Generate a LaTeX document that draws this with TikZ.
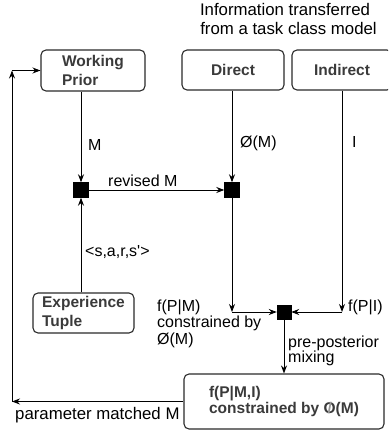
\documentclass[tikz,border=0pt]{standalone}
\usepackage{fontspec}
\setmainfont{Liberation Sans}
% plain family: keeps the straight apostrophe in <s,a,r,s'>
\newfontfamily\labfont{Liberation Sans}
\usetikzlibrary{arrows.meta}
\definecolor{boxgray}{HTML}{2A2A2A}
\definecolor{boxtext}{HTML}{3A3A3A}
% bold O with a light grey stroke across it
\newcommand\greyslashO{\rlap{O}\hbox to \fontcharwd\font`O{\hss\textcolor{black!40}{/}\hss}}
\begin{document}
\begin{tikzpicture}[x=1pt,y=-1pt,
  box/.style={draw=boxgray, line width=1.1pt, rounded corners=5pt, inner sep=0pt,
    font=\labfont\fontsize{15.5}{19}\selectfont\bfseries, text=boxtext, align=left},
  junction/.style={fill=black, draw=black, minimum size=15pt, inner sep=0pt},
  lbl/.style={font=\labfont\fontsize{16}{17}\selectfont, inner sep=0pt, anchor=base west},
  biglbl/.style={lbl, font=\labfont\fontsize{16.8}{18}\selectfont},
  arr/.style={-{Stealth[length=8pt,width=6pt]}, line width=0.9pt},
]
\useasboundingbox (0,0) rectangle (388,436);
\clip (0,0) rectangle (388,436);

% heading
\node[biglbl, anchor=base] (title1) at (285,16) {Information transferred};
\node[biglbl, anchor=base] (title2) at (288.5,35) {from a task class model};

% boxes
\node[box, minimum width=104pt, minimum height=41pt] (wp) at (93,70.5) {Working\\Prior};
\node[box, minimum width=102pt, minimum height=40pt] (direct) at (233,70) {Direct};
\node[box, minimum width=100pt, minimum height=40pt] (indirect) at (342,70) {Indirect};
\node[box, minimum width=101pt, minimum height=40pt] (exp) at (83.5,313) {Experience\\Tuple};
\node[box, minimum width=200pt, minimum height=55pt, font=\labfont\fontsize{15.5}{15.5}\selectfont\bfseries]
  (post) at (284,401.5) {f(P|M,I)\\constrained by \greyslashO(M)};

% junctions
\node[junction] (j1) at (81,190) {};
\node[junction] (j2) at (232,190) {};
\node[junction, minimum size=14pt] (j3) at (284,312) {};

% corners of the routed connectors
\coordinate (c1) at (j2 |- j3);
\coordinate (c2) at (indirect |- j3);
\coordinate (lx) at (12,0);
\coordinate (c3) at (lx |- post.west);
\coordinate (c4) at (lx |- wp.west);

% connectors
\draw[arr] (wp.south -| j1) -- (j1);
\draw[arr] (exp.north -| j1) -- (j1);
\draw[arr] (j1) -- (j2);
\draw[arr] (direct.south -| j2) -- (j2);
\draw[arr] (j2) -- (c1);
\draw[arr] (c1) -- (j3);
\draw[arr] (indirect.south) -- (c2);
\draw[arr] (c2) -- (j3);
\draw[arr] (j3) -- (post.north -| j3);
\draw[arr] (post.west) -- (c3);
\draw[arr] (c3) -- (c4);
\draw[arr] (c4) -- (wp.west);

% connector labels
\node[lbl] (lm) at (88,150) {M};
\node[lbl] (lphi) at (240,147) {Ø(M)};
\node[lbl] (li) at (352,147) {I};
\node[lbl] (lrev) at (108,186) {revised M};
\node[lbl] (ltup) at (85,256) {<s,a,r,s'>};
\node[lbl] (lpm1) at (157,311) {f(P|M)};
\node[lbl] (lpm2) at (157,327) {constrained by};
\node[lbl] (lpm3) at (157,344) {Ø(M)};
\node[lbl] (lpi) at (348,311) {f(P|I)};
\node[lbl] (lmix1) at (288,347) {pre-posterior};
\node[lbl] (lmix2) at (288,362) {mixing};
\node[biglbl] (lpar) at (15,419) {parameter matched M};
\end{tikzpicture}
\end{document}
